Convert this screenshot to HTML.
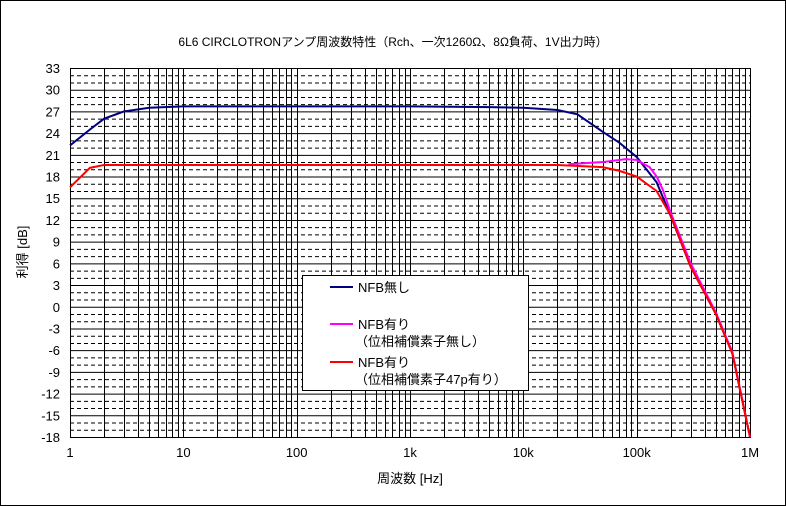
<!DOCTYPE html>
<html><head><meta charset="utf-8"><style>
body{margin:0;background:#fff}
svg{display:block;font-family:"Liberation Sans","Noto Sans CJK JP",sans-serif}
</style></head><body>
<svg id="c" width="786" height="506"></svg>
<script>
const yTicks=[33,30,27,24,21,18,15,12,9,6,3,0,-3,-6,-9,-12,-15,-18];
const xTickVals=[1,10,100,1000,10000,100000,1000000];
const xTickLabels=["1","10","100","1k","10k","100k","1M"];
const blueF=[1,1.5,2,3,5,10,100,1000,5000,10000,20000,30000,50000,70000,100000,150000,200000,300000,500000,700000,1000000];
const blueV=[22.3,24.5,26,27,27.5,27.7,27.7,27.7,27.6,27.5,27.2,26.6,24.2,22.7,20.7,17.2,12.5,5.5,-1,-6.5,-18];
const pinkF=[25000,50000,80000,100000,130000,150000,170000,200000,300000,500000,700000,1000000];
const pinkV=[19.7,20.0,20.4,20.3,19.3,18.0,16.2,13.0,6.0,-0.8,-6.3,-18];
const redF=[1,1.5,2,5,100,1000,10000,20000,50000,70000,100000,150000,200000,300000,500000,700000,1000000];
const redV=[16.5,19.2,19.6,19.6,19.6,19.6,19.6,19.6,19.3,18.8,18.0,16.0,12.6,5.5,-1,-6.5,-18];
const L=70,R=750,T=68,B=437;
const X=f=>L+(R-L)*Math.log10(f)/6;
const Y=v=>T+(B-T)*(33-v)/51;
const s=document.getElementById('c');const NS="http://www.w3.org/2000/svg";
function el(t,a,p){const e=document.createElementNS(NS,t);for(const k in a)e.setAttribute(k,a[k]);(p||s).appendChild(e);return e;}
const bg=el('rect',{x:0.5,y:0.5,width:785,height:505,fill:'#fff',stroke:'#000'});


const g=el('g',{});


for(let v=-18;v<=33;v++){const y=Y(v)+0.5;
 el('line',{x1:L,x2:R,y1:y,y2:y,stroke:'#000','stroke-width':1,'stroke-dasharray':(v%3===0)?'':'4,3'},g);}
for(let d=0;d<6;d++)for(let m=1;m<=9;m++){const x=Math.round(X(Math.pow(10,d)*m))+0.5;
 el('line',{x1:x,x2:x,y1:T,y2:B,stroke:'#000','stroke-width':1},g);}
el('rect',{x:L+0.5,y:T+0.5,width:R-L,height:B-T,fill:'none',stroke:'#000'},g);
yTicks.forEach(v=>{const t=el('text',{x:L-10,y:Y(v)+5,'text-anchor':'end','font-size':13});t.textContent=v;
 });
xTickVals.forEach((f,i)=>{const t=el('text',{x:X(f),y:B+20,'text-anchor':'middle','font-size':13});t.textContent=xTickLabels[i];
 });
function line(F,V,c,n){const p=el('polyline',{points:F.map((f,i)=>X(f)+','+Y(V[i])).join(' '),fill:'none',stroke:c,'stroke-width':2});
 }
line(blueF,blueV,'#000080','series-nfb-none');
line(pinkF,pinkV,'#ff00ff','series-nfb-no-comp');
line(redF,redV,'#ff0000','series-nfb-47p');
const tt=el('text',{x:393,y:46,'text-anchor':'middle','font-size':12});tt.textContent='6L6 CIRCLOTRONアンプ周波数特性（Rch、一次1260Ω、8Ω負荷、1V出力時）';

const xl=el('text',{x:410,y:483,'text-anchor':'middle','font-size':13});xl.textContent='周波数 [Hz]';

const yl=el('text',{x:0,y:0,'text-anchor':'middle','font-size':13,transform:'translate(27,252) rotate(-90)'});yl.textContent='利得 [dB]';

const lg=el('g',{});

el('rect',{x:302.5,y:275.5,width:226,height:115,fill:'#fff',stroke:'#000'},lg);
const items=[[287,'#000080',['NFB無し']],[324,'#ff00ff',['NFB有り','（位相補償素子無し）']],[362,'#ff0000',['NFB有り','（位相補償素子47p有り）']]];
items.forEach(it=>{const e=el('g',{},lg);
 el('line',{x1:330,x2:353,y1:it[0],y2:it[0],stroke:it[1],'stroke-width':2},e);
 it[2].forEach((t,j)=>{const tx=el('text',{x:j?355:358,y:it[0]+5+j*17,'font-size':13},e);tx.textContent=t;});});
</script>
</body></html>
